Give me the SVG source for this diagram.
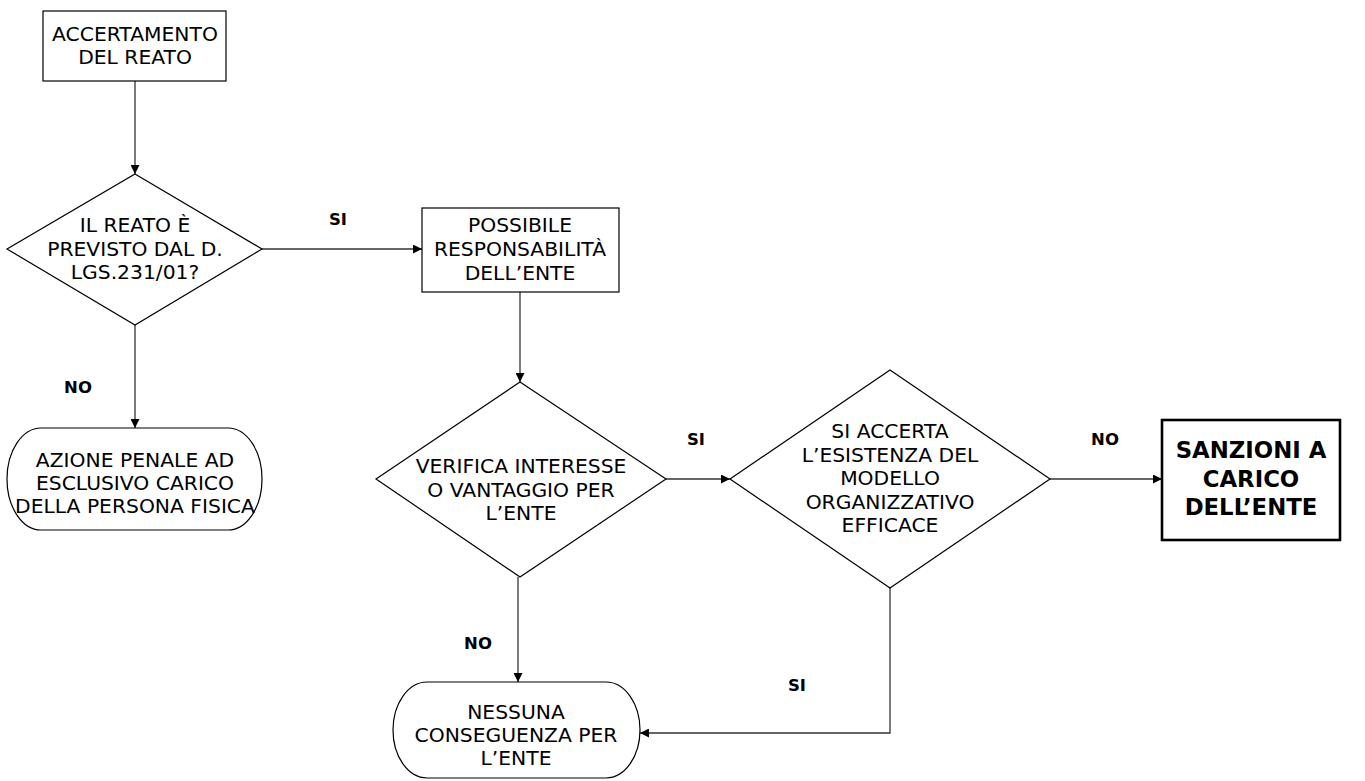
<svg xmlns="http://www.w3.org/2000/svg" width="1365" height="781" viewBox="0 0 1365 781">
<style>
.shape{fill:#ffffff;stroke:#000000;stroke-width:1.2}
.thick{fill:#ffffff;stroke:#000000;stroke-width:2.6}
.t{font-family:"DejaVu Sans",Verdana,sans-serif;font-size:20.3px;fill:#000000;text-anchor:middle}
.tb{font-family:"DejaVu Sans","Verdana",sans-serif;font-size:22.8px;font-weight:bold;fill:#000000;text-anchor:middle}
.lbl{font-family:"DejaVu Sans",Verdana,sans-serif;font-size:16.5px;font-weight:bold;fill:#000000;text-anchor:middle}
.c{fill:none;stroke:#333333;stroke-width:1.3}
</style>
<defs>
<marker id="arr" viewBox="0 0 10 10" refX="10" refY="5" markerWidth="10" markerHeight="9" markerUnits="userSpaceOnUse" orient="auto">
<path d="M0,0 L10,5 L0,10 z" fill="#000000"/>
</marker>
</defs>
<rect x="0" y="0" width="1365" height="781" fill="#ffffff"/>

<g id="connectors">
<line class="c" x1="135" y1="81" x2="135" y2="174" marker-end="url(#arr)"/>
<line class="c" x1="262" y1="249" x2="422" y2="249" marker-end="url(#arr)"/>
<line class="c" x1="135" y1="325" x2="135" y2="428" marker-end="url(#arr)"/>
<line class="c" x1="520" y1="292" x2="520" y2="382" marker-end="url(#arr)"/>
<line class="c" x1="666" y1="479" x2="730" y2="479" marker-end="url(#arr)"/>
<line class="c" x1="1050" y1="479" x2="1162" y2="479" marker-end="url(#arr)"/>
<line class="c" x1="518" y1="577" x2="518" y2="682" marker-end="url(#arr)"/>
<polyline class="c" points="890,588 890,733 640,733" marker-end="url(#arr)"/>
<text class="lbl" x="338" y="225">SI</text>
<text class="lbl" x="78" y="393">NO</text>
<text class="lbl" x="696" y="445">SI</text>
<text class="lbl" x="1105" y="445">NO</text>
<text class="lbl" x="478" y="649">NO</text>
<text class="lbl" x="797" y="691">SI</text>
</g>

<g id="n_accertamento">
<rect class="shape" x="43" y="11" width="183" height="70"/>
<text class="t" x="135" y="41">ACCERTAMENTO</text>
<text class="t" x="135" y="64">DEL REATO</text>
</g>

<g id="d_previsto">
<polygon class="shape" points="135,174 262,249 135,325 7,249"/>
<text class="t" x="135" y="232">IL REATO È</text>
<text class="t" x="135" y="256">PREVISTO DAL D.</text>
<text class="t" x="135" y="279">LGS.231/01?</text>
</g>

<g id="n_azione">
<rect class="shape" x="7" y="428" width="255" height="102" rx="34" ry="51"/>
<text class="t" x="135" y="467">AZIONE PENALE AD</text>
<text class="t" x="135" y="490">ESCLUSIVO CARICO</text>
<text class="t" x="135" y="513">DELLA PERSONA FISICA</text>
</g>

<g id="n_possibile">
<rect class="shape" x="422" y="208" width="197" height="84"/>
<text class="t" x="520" y="232">POSSIBILE</text>
<text class="t" x="520" y="256">RESPONSABILITÀ</text>
<text class="t" x="520" y="280">DELL’ENTE</text>
</g>

<g id="d_verifica">
<polygon class="shape" points="520,382 666,479 520,577 376,479"/>
<text class="t" x="521" y="473">VERIFICA INTERESSE</text>
<text class="t" x="521" y="497">O VANTAGGIO PER</text>
<text class="t" x="521" y="520">L’ENTE</text>
</g>

<g id="d_modello">
<polygon class="shape" points="890,370 1050,479 890,588 730,479"/>
<text class="t" x="890" y="438">SI ACCERTA</text>
<text class="t" x="890" y="461.5">L’ESISTENZA DEL</text>
<text class="t" x="890" y="485">MODELLO</text>
<text class="t" x="890" y="508.5">ORGANIZZATIVO</text>
<text class="t" x="890" y="532">EFFICACE</text>
</g>

<g id="n_sanzioni">
<rect class="thick" x="1162" y="420" width="178" height="120"/>
<text class="tb" x="1251" y="458">SANZIONI A</text>
<text class="tb" x="1251" y="486.5">CARICO</text>
<text class="tb" x="1251" y="515">DELL’ENTE</text>
</g>

<g id="n_nessuna">
<rect class="shape" x="393" y="682" width="247" height="96" rx="34" ry="48"/>
<text class="t" x="516" y="719">NESSUNA</text>
<text class="t" x="516" y="742">CONSEGUENZA PER</text>
<text class="t" x="516" y="765">L’ENTE</text>
</g>
</svg>
